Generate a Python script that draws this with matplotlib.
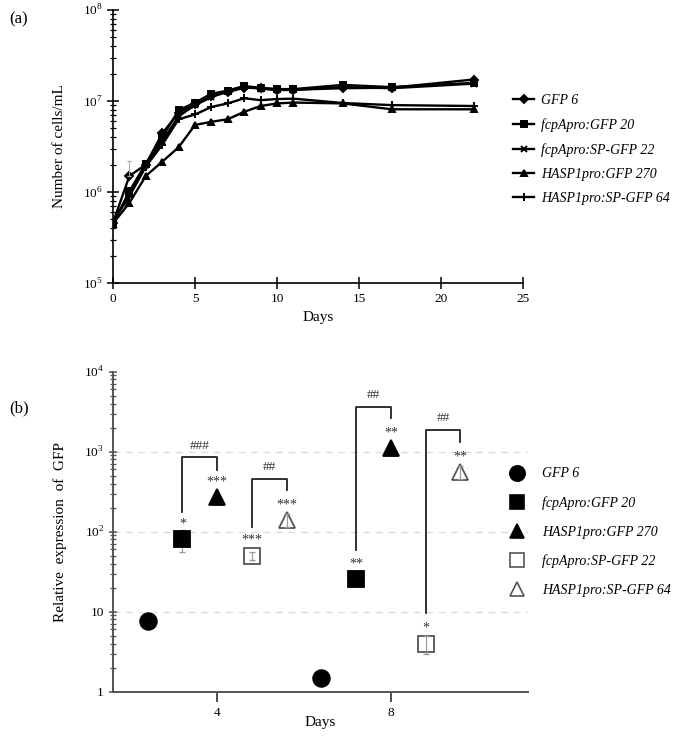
import numpy as np
import matplotlib
matplotlib.use("Agg")
import matplotlib.pyplot as plt
from matplotlib.lines import Line2D
import matplotlib.ticker as ticker

plt.rcParams['font.family'] = ['Liberation Serif', 'DejaVu Serif']
plt.rcParams['mathtext.fontset'] = 'custom'
plt.rcParams['mathtext.rm'] = 'Liberation Serif'

# ---- panel (a): growth curves ----
days = [0, 1, 2, 3, 4, 5, 6, 7, 8, 9, 10, 11, 14, 17, 22]
gfp6 = [4.6e5, 1.5e6, 2.0e6, 4.4e6, 7.4e6, 9.2e6, 1.12e7, 1.25e7, 1.40e7, 1.38e7, 1.33e7, 1.33e7, 1.38e7, 1.40e7, 1.72e7]
fcp20 = [4.5e5, 1.02e6, 2.05e6, 4.0e6, 7.9e6, 9.6e6, 1.2e7, 1.3e7, 1.45e7, 1.40e7, 1.35e7, 1.35e7, 1.5e7, 1.42e7, 1.58e7]
fcpsp22 = [4.7e5, 0.92e6, 2.0e6, 3.6e6, 6.8e6, 9.0e6, 1.1e7, 1.3e7, 1.45e7, 1.36e7, 1.32e7, 1.32e7, 1.42e7, 1.38e7, 1.55e7]
hasp270 = [4.5e5, 7.6e5, 1.5e6, 2.15e6, 3.1e6, 5.45e6, 5.9e6, 6.3e6, 7.6e6, 8.8e6, 9.4e6, 9.6e6, 9.4e6, 8.1e6, 8.1e6]
haspsp64 = [4.8e5, 0.9e6, 1.9e6, 3.3e6, 6.3e6, 7.1e6, 8.6e6, 9.4e6, 1.07e7, 1.02e7, 1.05e7, 1.06e7, 9.5e6, 9.0e6, 8.8e6]
gfp6_err = [0, 7e5, 0, 0, 0, 0, 0, 0, 0, 0, 0, 0, 0, 0, 0]

growth_labels = ['GFP 6', 'fcpApro:GFP 20', 'fcpApro:SP-GFP 22', 'HASP1pro:GFP 270', 'HASP1pro:SP-GFP 64']
growth_series = [gfp6, fcp20, fcpsp22, hasp270, haspsp64]
growth_markers = ['D', 's', 'x', '^', '+']
growth_msize = [4, 5, 5, 5, 6]

# ---- panel (b): relative expression ----
strains = ['GFP 6', 'fcpApro:GFP 20', 'HASP1pro:GFP 270', 'fcpApro:SP-GFP 22', 'HASP1pro:SP-GFP 64']
expr_day4 = [7.7, 80, 270, 50, 140]
expr_day8 = [1.5, 25.6, 1100, 4.0, 560]
err_day4 = [0, 24, 0, 6, 25]
err_day8 = [0, 0, 0, 1.0, 100]
stars_day4 = ['', '*', '***', '***', '***']
stars_day8 = ['', '**', '**', '*', '**']
day_labels = ['4', '8']
# brackets: (from index, to index, start y, top y, end y, label)
brackets = [(1, 2, 178, 850, 590, '###'),
            (3, 4, 115, 455, 332, '##'),
            (6, 7, 59, 3650, 2630, '##'),
            (8, 9, 9.7, 1870, 1330, '##')]

fig = plt.figure(figsize=(6.85, 7.36), dpi=100)

# panel (a)
ax1 = fig.add_axes([0.165, 0.6155, 0.5985, 0.371])
for s, lab, m, ms in zip(growth_series, growth_labels, growth_markers, growth_msize):
    ax1.plot(days, s, color='black', lw=1.7, marker=m, ms=ms, mew=1.4, label=lab)
d_err = [d for d, e in zip(days, gfp6_err) if e > 0]
v_err = [v for v, e in zip(gfp6, gfp6_err) if e > 0]
e_err = [e for e in gfp6_err if e > 0]
ax1.errorbar(d_err, v_err, yerr=[np.zeros(len(e_err)), e_err], fmt='none', ecolor='#aaaaaa',
             elinewidth=0.7, capsize=1.5)
ax1.set_yscale('log')
ax1.set_ylim(1e5, 1e8)
ax1.set_xlim(0, 25)
ax1.set_xticks([0, 5, 10, 15, 20, 25])
ax1.set_yticks([1e5, 1e6, 1e7, 1e8])
ax1.set_yticklabels(['10$^{5}$', '10$^{6}$', '10$^{7}$', '10$^{8}$'])
ax1.yaxis.set_minor_locator(ticker.LogLocator(base=10, subs=np.arange(2, 10)))
ax1.yaxis.set_minor_formatter(ticker.NullFormatter())
ax1.spines['top'].set_visible(False)
ax1.spines['right'].set_visible(False)
for sp in ['left', 'bottom']:
    ax1.spines[sp].set_linewidth(1.2)
ax1.tick_params(axis='y', which='major', direction='inout', length=8, width=1.1, labelsize=9.5)
ax1.tick_params(axis='y', which='minor', direction='inout', length=5, width=0.9)
ax1.tick_params(axis='x', direction='inout', length=8, width=1.1, labelsize=9.5)
ax1.set_xlabel('Days', fontsize=11, labelpad=4)
ax1.set_ylabel('Number of cells/mL', fontsize=11, labelpad=12)
ax1.legend(loc='upper left', bbox_to_anchor=(0.963, 0.713), frameon=False,
           prop={'style': 'italic', 'size': 10}, handlelength=1.5, handletextpad=0.5,
           labelspacing=0.8, borderaxespad=0)
fig.text(0.014, 0.968, '(a)', fontsize=12)

# panel (b)
ax2 = fig.add_axes([0.165, 0.0602, 0.606, 0.4348])
x4 = np.arange(5)
x8 = np.arange(5) + 5
fills = ['black', 'black', 'black', 'white', 'white']
edges = ['black', 'black', 'black', '#555555', '#555555']
shapes = ['o', 's', '^', 's', '^']
sizes = [12, 11, 11, 11, 11]
xall = list(x4) + list(x8)
yall = expr_day4 + expr_day8
eall = err_day4 + err_day8
xe = [x for x, e in zip(xall, eall) if e > 0]
ye = [y for y, e in zip(yall, eall) if e > 0]
ee = [e for e in eall if e > 0]
ax2.errorbar(xe, ye, yerr=ee, fmt='none', ecolor='#999999', elinewidth=0.8, capsize=2, zorder=2)

handles = []
for i in range(5):
    z = 3 if fills[i] == 'black' else 1.5
    ax2.plot([x4[i], x8[i]], [expr_day4[i], expr_day8[i]], ls='none', marker=shapes[i], ms=sizes[i],
             mfc=fills[i], mec=edges[i], mew=1.3, zorder=z)
    handles.append(Line2D([], [], ls='none', marker=shapes[i], ms=sizes[i] - 1, mfc=fills[i],
                          mec=edges[i], mew=1.2, label=strains[i]))

sall = stars_day4 + stars_day8
for xv, yv, st in zip(xall, yall, sall):
    if st:
        ax2.annotate(st, (xv, yv), xytext=(0, 11), textcoords='offset points', ha='center',
                     va='center', fontsize=10, color='#333333')

for i0, i1, y0, yt, y1, lab in brackets:
    ax2.plot([xall[i0], xall[i0], xall[i1], xall[i1]], [y0, yt, yt, y1], color='#222222', lw=1.3)
    ax2.annotate(lab, ((xall[i0] + xall[i1]) / 2, yt), xytext=(0, 4), textcoords='offset points',
                 ha='center', va='bottom', fontsize=9.5, color='#333333')

for g in [10, 100, 1000]:
    ax2.axhline(g, color='#dddddd', ls=(0, (5, 4)), lw=1.0, zorder=0)

ax2.set_yscale('log')
ax2.set_ylim(1, 1e4)
ax2.set_xlim(-1, 10.95)
ax2.set_xticks([2, 7])
ax2.set_xticklabels(day_labels)
ax2.set_yticks([1, 10, 100, 1000, 10000])
ax2.set_yticklabels(['1', '10', '10$^{2}$', '10$^{3}$', '10$^{4}$'])
ax2.yaxis.set_minor_locator(ticker.LogLocator(base=10, subs=np.arange(2, 10)))
ax2.yaxis.set_minor_formatter(ticker.NullFormatter())
ax2.spines['top'].set_visible(False)
ax2.spines['right'].set_visible(False)
for sp in ['left', 'bottom']:
    ax2.spines[sp].set_linewidth(1.4)
    ax2.spines[sp].set_color('#555555')
ax2.tick_params(axis='y', which='major', direction='inout', length=6, width=1.1, labelsize=9.5, color='#555555')
ax2.tick_params(axis='y', which='minor', direction='inout', length=4, width=0.9, color='#555555')
ax2.tick_params(axis='x', direction='out', length=7, width=1.2, labelsize=9.5, pad=4, color='#333333')
ax2.set_xlabel('Days', fontsize=11, labelpad=-2)
ax2.set_ylabel('Relative  expression  of  GFP', fontsize=11, labelpad=12)
ax2.legend(handles=handles, loc='upper left', bbox_to_anchor=(0.94, 0.718), frameon=False,
           prop={'style': 'italic', 'size': 10}, handlelength=1.2, handletextpad=1.2,
           labelspacing=1.13, borderaxespad=0)
fig.text(0.014, 0.44, '(b)', fontsize=12)

fig.savefig('out.png', dpi=100)
